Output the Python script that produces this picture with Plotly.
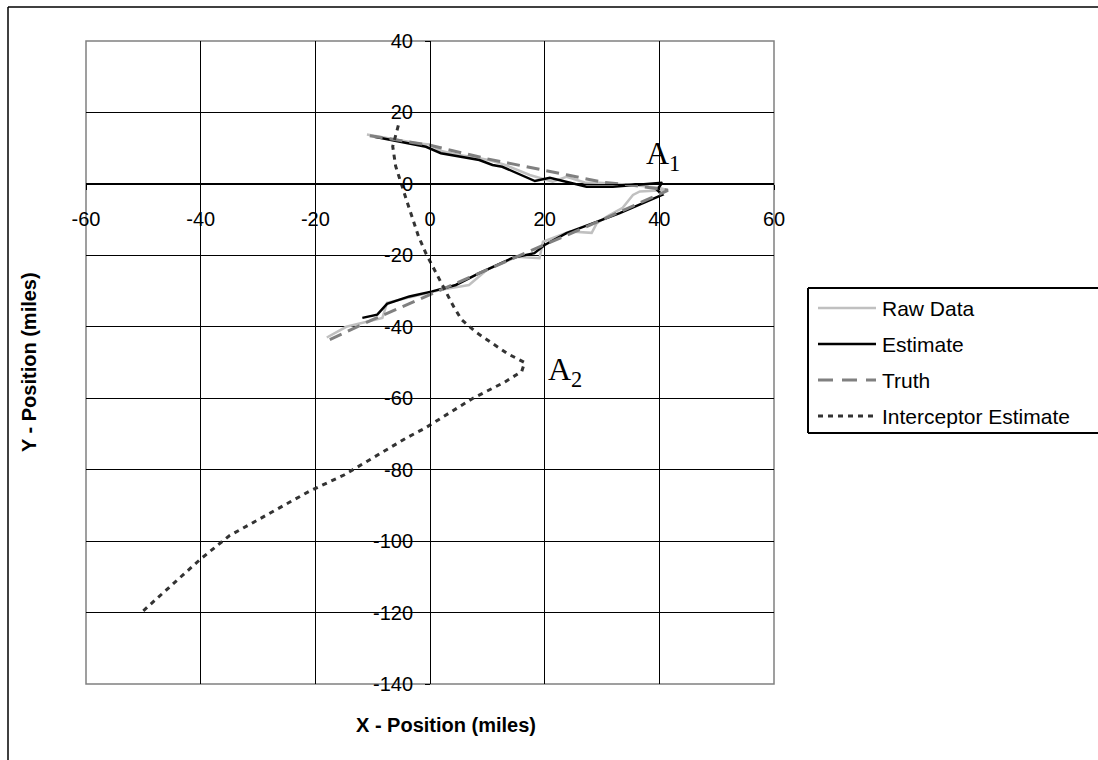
import plotly.graph_objects as go

# Target track: raw measurements, filter estimate and true path (miles)
raw_x = [-11.0, -7.0, -2.0, 0.0, 2.0, 5.0, 8.0, 10.4, 13.0, 17.4, 21.4, 23.8, 27.0, 29.6, 35.4, 39.8, 41.5,
         36.6, 35.4, 33.6, 31.0, 29.1, 28.2, 24.4, 19.7, 19.1, 15.1, 10.0, 6.8, 2.1, -2.0, -7.5, -8.3, -14.6, -18.0]
raw_y = [13.8, 12.6, 11.3, 11.0, 9.2, 8.1, 7.4, 6.6, 5.4, 2.5, 0.6, 2.0, 0.4, 0.3, -0.3, -1.1, -1.7,
         -2.1, -3.1, -6.7, -9.0, -11.0, -13.7, -13.3, -16.2, -20.8, -20.4, -24.0, -28.3, -29.6, -31.2, -33.3, -37.5, -40.0, -43.0]

est_x = [-9.7, -0.7, 1.9, 4.5, 8.6, 10.9, 12.6, 18.3, 20.9, 27.3, 31.9, 40.5,
         39.6, 40.5, 33.1, 30.1, 23.8, 20.0, 18.2, 14.4, 8.6, 4.5, 0.4, -3.6, -7.5, -9.2, -11.8]
est_y = [13.2, 10.4, 8.6, 7.9, 6.7, 5.3, 4.8, 0.8, 1.7, -0.8, -0.8, 0.3,
         -1.7, -3.1, -8.2, -10.0, -13.8, -17.1, -19.4, -20.7, -25.0, -28.3, -30.1, -31.5, -33.6, -36.6, -37.5]

truth_x = [-10.5, 0.0, 10.0, 18.0, 24.0, 30.0, 36.0, 41.5, 35.0, 28.0, 20.0, 10.0, 0.0, -10.0, -18.0]
truth_y = [13.5, 10.8, 7.0, 4.5, 2.5, 0.5, -0.5, -1.8, -6.5, -11.5, -17.0, -24.0, -31.0, -38.0, -44.0]

# Interceptor estimated path
int_x = [-50.0, -40.0, -35.0, -21.0, -15.0, -4.0, -1.0, 2.0, 7.5, 13.0, 16.0, 16.5,
         13.5, 8.0, 5.5, 4.0, 1.0, -0.7, -2.0, -3.0, -4.0, -5.0, -6.0, -6.5, -5.5]
int_y = [-119.5, -105.0, -98.5, -86.0, -81.5, -71.0, -68.5, -65.5, -60.0, -55.5, -52.5, -50.0,
         -47.5, -41.5, -38.0, -34.0, -24.5, -19.5, -14.7, -9.5, -5.0, 0.0, 5.0, 10.5, 16.5]

x_ticks = [-60, -40, -20, 0, 20, 40, 60]
y_ticks = [40, 20, 0, -20, -40, -60, -80, -100, -120, -140]

W, H = 1098, 760
L, R, T, B = 86, 774, 41, 684

def px(x):
    return (x - L) / (R - L)

def py(y):
    return (B - y) / (B - T)

def seg(x0, y0, x1, y1, color, width, dash="solid"):
    return dict(type="line", xref="paper", yref="paper",
                x0=px(x0), x1=px(x1), y0=py(y0), y1=py(y1),
                line=dict(color=color, width=width, dash=dash))

font = "Liberation Sans, Arial, sans-serif"
serif = "Liberation Serif, Times New Roman, serif"
FS = 20

RAW_C, EST_C, TRU_C, INT_C = "#c0c0c0", "#000000", "#808080", "#333333"

fig = go.Figure()
fig.add_trace(go.Scatter(x=raw_x, y=raw_y, mode="lines", name="Raw Data",
                         line=dict(color=RAW_C, width=2.5)))
fig.add_trace(go.Scatter(x=est_x, y=est_y, mode="lines", name="Estimate",
                         line=dict(color=EST_C, width=2.5)))
fig.add_trace(go.Scatter(x=truth_x, y=truth_y, mode="lines", name="Truth",
                         line=dict(color=TRU_C, width=3, dash="13px,7px")))
fig.add_trace(go.Scatter(x=int_x, y=int_y, mode="lines", name="Interceptor Estimate",
                         line=dict(color=INT_C, width=3, dash="5px,5px")))

shapes = []
# outer chart frame (runs off the right and bottom edges)
shapes.append(seg(8, 7, 1098, 7, "#000000", 1.5))
shapes.append(seg(8, 7, 8, 760, "#000000", 1.5))
# plot area frame
shapes.append(dict(type="rect", xref="paper", yref="paper",
                   x0=0, x1=1, y0=0, y1=1,
                   line=dict(color="#808080", width=1.5), layer="below"))

# legend box (open on the right, where it is cut off)
shapes.append(seg(808, 288, 1098, 288, "#000000", 2))
shapes.append(seg(808, 433, 1098, 433, "#000000", 2))
shapes.append(seg(808, 288, 808, 433, "#000000", 2))
legend_items = [("Raw Data", RAW_C, 2.5, "solid"),
                ("Estimate", EST_C, 2.5, "solid"),
                ("Truth", TRU_C, 3, "15px,9px"),
                ("Interceptor Estimate", INT_C, 3, "5px,5px")]
annotations = []
for i, (name, color, width, dash) in enumerate(legend_items):
    yy = 308 + i * 36
    shapes.append(seg(818, yy, 876, yy, color, width, dash))
    annotations.append(dict(xref="paper", yref="paper", x=px(880), y=py(yy),
                            text=name, showarrow=False, xanchor="left", yanchor="middle",
                            font=dict(family=font, size=FS + 1, color="#000000")))

# axis titles
annotations.append(dict(xref="paper", yref="paper", x=px(446), y=py(725),
                        text="<b>X - Position (miles)</b>", showarrow=False,
                        xanchor="center", yanchor="middle",
                        font=dict(family=font, size=FS, color="#000000")))
annotations.append(dict(xref="paper", yref="paper", x=px(29), y=py(362),
                        text="<b>Y - Position (miles)</b>", showarrow=False, textangle=-90,
                        xanchor="center", yanchor="middle",
                        font=dict(family=font, size=FS, color="#000000")))

# point labels
annotations.append(dict(x=40, y=0, xref="x", yref="y", text="A<sub>1</sub>", showarrow=False,
                        xanchor="left", yanchor="bottom", yshift=6, xshift=-15,
                        font=dict(family=serif, size=32, color="#000000")))
annotations.append(dict(x=20.3, y=-52.6, xref="x", yref="y", text="A<sub>2</sub>", showarrow=False,
                        xanchor="left", yanchor="middle",
                        font=dict(family=serif, size=32, color="#000000")))

fig.update_layout(
    width=W, height=H,
    margin=dict(l=L, r=W - R, t=T, b=H - B),
    paper_bgcolor="white", plot_bgcolor="white",
    showlegend=False,
    shapes=shapes, annotations=annotations,
    xaxis=dict(range=[-60, 60], tickvals=x_ticks, ticktext=[str(v) for v in x_ticks],
               anchor="free", position=140 / 180,
               showgrid=True, gridcolor="#000000", gridwidth=1,
               zeroline=False, showline=True, linecolor="#000000", linewidth=1,
               ticks="outside", ticklen=5, tickcolor="#000000", ticklabelstandoff=12,
               tickfont=dict(family=font, size=FS, color="#000000")),
    yaxis=dict(range=[-140, 40], tickvals=y_ticks, ticktext=[str(v) for v in y_ticks],
               anchor="free", position=0.5,
               showgrid=True, gridcolor="#000000", gridwidth=1,
               zeroline=False, showline=True, linecolor="#000000", linewidth=1,
               ticks="outside", ticklen=5, tickcolor="#000000", ticklabelstandoff=8,
               tickfont=dict(family=font, size=FS, color="#000000")),
)

fig.write_html("out.html")
